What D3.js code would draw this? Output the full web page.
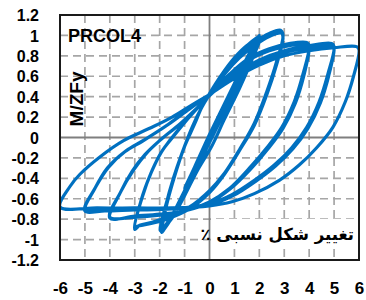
<!DOCTYPE html>
<html><head><meta charset="utf-8">
<script src="https://cdn.jsdelivr.net/npm/d3@7"></script>
<style>body{margin:0;background:#fff}svg{display:block}</style>
</head><body>
<svg id="c" width="366" height="300"></svg>
<script>
// ---- data ----
const xTicks = [-6,-5,-4,-3,-2,-1,0,1,2,3,4,5,6];
const yTicks = [-1.2,-1,-0.8,-0.6,-0.4,-0.2,0,0.2,0.4,0.6,0.8,1,1.2];
const yTickLabels = ["-1.2","-1","-0.8","-0.6","-0.4","-0.2","0","0.2","0.4","0.6","0.8","1","1.2"];
const titleText = "PRCOL4";
const yTitle = "M/ZFy";
const xTitle = "تغییر شکل نسبی ٪";

// drift (%) , M/ZFy, in loading order
const cycleA05 = [[0,0],[0.25,0.13],[0.5,0.26],[0.25,0.12],[0,-0.01],[-0.25,-0.13],[-0.5,-0.26],[-0.25,-0.12],[0,0.01]];
const cycleA1 = [[0.5,0.26],[1,0.52],[0.6,0.31],[0,0],[-0.5,-0.26],[-1,-0.51],[-0.6,-0.3],[0,0.02],
  [0.5,0.27],[1,0.5],[0.6,0.29],[0,-0.02],[-0.5,-0.27],[-1,-0.5],[-0.6,-0.29],[0,0.03]];
const cycleA2 = [[0.5,0.28],[1,0.53],[1.5,0.78],[2,1.0],[1.6,0.8],[1,0.5],[0.4,0.18],[0,-0.02],[-0.5,-0.27],[-1,-0.52],[-1.5,-0.76],[-1.85,-0.89],[-1.95,-0.92],[-1.9,-0.82],
  [-1.75,-0.66],[-1.45,-0.4],[-1.1,-0.15],[-0.7,0.1],[-0.3,0.3],[0,0.42],
  [0.5,0.6],[1,0.76],[1.5,0.9],[2,0.99],[1.65,0.78],[1.1,0.5],[0.5,0.2],[0,-0.05],[-0.5,-0.3],[-1,-0.55],[-1.5,-0.78],[-1.82,-0.9],[-1.92,-0.93],[-1.86,-0.82],
  [-1.7,-0.64],[-1.4,-0.38],[-1.05,-0.12],[-0.65,0.12],[-0.3,0.3],[0,0.43],
  [0.5,0.62],[1,0.78],[1.5,0.9],[2,0.97],[1.7,0.76],[1.2,0.48],[0.6,0.18],[0.1,-0.08],[-0.5,-0.33],[-1,-0.57],[-1.5,-0.79],[-1.85,-0.89],[-1.98,-0.91],[-1.9,-0.8],
  [-1.72,-0.63],[-1.38,-0.36],[-1.02,-0.1],[-0.6,0.13],[-0.28,0.31],[0,0.42]];
const cycleA3 = [[0.6,0.63],[1.2,0.8],[1.8,0.93],[2.4,1.02],[2.85,1.05],[2.95,1.0],[2.7,0.75],[2.3,0.45],[1.8,0.14],[1.2,-0.12],[0.6,-0.35],[0,-0.52],
  [-0.8,-0.68],[-1.6,-0.77],[-2.3,-0.83],[-2.8,-0.86],[-3,-0.9],
  [-2.75,-0.62],[-2.35,-0.35],[-1.95,-0.15],[-1.6,-0.03],[-1,0.15],[-0.45,0.3],[0,0.42],
  [0.6,0.62],[1.2,0.78],[1.8,0.9],[2.4,0.99],[2.9,1.02],[2.95,0.97],[2.7,0.72],[2.3,0.42],[1.8,0.12],[1.2,-0.13],[0.6,-0.36],[0,-0.54],
  [-0.8,-0.7],[-1.6,-0.79],[-2.3,-0.84],[-2.9,-0.87],[-3,-0.88],
  [-2.72,-0.6],[-2.3,-0.32],[-1.9,-0.13],[-1.55,-0.02],[-0.95,0.16],[-0.4,0.31],[0,0.42]];
const cycleA4 = [[0.8,0.62],[1.6,0.78],[2.4,0.87],[3.2,0.92],[3.9,0.93],[4,0.9],[3.75,0.62],[3.4,0.35],[2.9,0.1],[2.3,-0.1],[1.6,-0.3],[0.8,-0.5],[0,-0.63],
  [-1,-0.72],[-2,-0.75],[-3,-0.77],[-4,-0.79],
  [-3.6,-0.55],[-3.1,-0.33],[-2.6,-0.17],[-2,-0.03],[-1.2,0.13],[-0.5,0.29],[0,0.41],
  [0.8,0.6],[1.6,0.76],[2.4,0.85],[3.2,0.9],[3.95,0.91],[4,0.88],[3.78,0.6],[3.45,0.34],[2.95,0.09],[2.35,-0.11],[1.65,-0.31],[0.85,-0.5],[0,-0.64],
  [-1,-0.72],[-2,-0.76],[-3,-0.78],[-4,-0.78],
  [-3.58,-0.54],[-3.05,-0.32],[-2.55,-0.16],[-1.95,-0.02],[-1.15,0.14],[-0.45,0.3],[0,0.41]];
const cycleA5 = [[1,0.62],[2,0.76],[3,0.85],[4,0.9],[4.9,0.92],[5,0.89],[4.75,0.62],[4.4,0.35],[3.9,0.1],[3.3,-0.1],[2.6,-0.27],[1.8,-0.42],[0.9,-0.56],[0,-0.65],
  [-1.5,-0.7],[-3,-0.71],[-4.2,-0.72],[-5,-0.72],
  [-4.6,-0.5],[-4.1,-0.3],[-3.4,-0.14],[-2.65,-0.03],[-1.7,0.12],[-0.8,0.28],[0,0.42],
  [1,0.6],[2,0.74],[3,0.83],[4,0.88],[4.95,0.9],[5,0.87],[4.78,0.6],[4.45,0.34],[3.95,0.09],[3.35,-0.11],[2.65,-0.28],[1.85,-0.43],[0.95,-0.57],[0,-0.66],
  [-1.5,-0.7],[-3,-0.7],[-4.2,-0.71],[-5,-0.71],
  [-4.58,-0.49],[-4.05,-0.29],[-3.35,-0.13],[-2.6,-0.02],[-1.65,0.13],[-0.75,0.29],[0,0.42]];
const cycleA6 = [[1,0.58],[2,0.71],[3,0.8],[4,0.85],[5,0.88],[5.9,0.89],[6,0.86],[5.78,0.6],[5.45,0.35],[4.95,0.1],[4.3,-0.1],[3.6,-0.27],[2.8,-0.42],[1.8,-0.55],[0.9,-0.63],[0,-0.67],
  [-1.5,-0.69],[-3,-0.69],[-4.5,-0.69],[-6,-0.68],
  [-5.6,-0.48],[-5.2,-0.36],[-4.4,-0.19],[-3.45,-0.03],[-2.4,0.09],[-1.5,0.2],[-0.7,0.32],[0,0.42]];

// ---- layout ----
const L = 60, R = 359, T = 15, B = 260;
const svg = d3.select("#c");
const x = d3.scaleLinear().domain([-6,6]).range([L,R]);
const y = d3.scaleLinear().domain([-1.2,1.2]).range([B,T]);

// grid
const g = svg.append("g");
g.selectAll("line.vg").data(xTicks.filter(d=>d!==0 && Math.abs(d)<6)).enter().append("line")
  .attr("x1",d=>x(d)).attr("x2",d=>x(d)).attr("y1",T).attr("y2",B)
  .attr("stroke","#a6a6a6").attr("stroke-width",1.7).attr("stroke-dasharray","8,5");
g.selectAll("line.hg").data(yTicks.filter(d=>d!==0 && Math.abs(d)<1.2)).enter().append("line")
  .attr("y1",d=>y(d)).attr("y2",d=>y(d)).attr("x1",L).attr("x2",R)
  .attr("stroke","#a6a6a6").attr("stroke-width",1.7).attr("stroke-dasharray","8,5");
// zero lines
g.append("line").attr("x1",x(0)).attr("x2",x(0)).attr("y1",T).attr("y2",B).attr("stroke","#7f7f7f").attr("stroke-width",1.8);
g.append("line").attr("x1",L).attr("x2",R).attr("y1",y(0)).attr("y2",y(0)).attr("stroke","#7f7f7f").attr("stroke-width",1.8);

// tick labels via d3 axes
const yAxis = d3.axisLeft(y).tickValues(yTicks).tickSize(0).tickPadding(0)
  .tickFormat((d,i)=>yTickLabels[i]);
svg.append("g").attr("transform",`translate(39,0)`).call(yAxis)
  .call(a=>a.select(".domain").remove())
  .selectAll("text").attr("font-family","Liberation Sans, Arial, sans-serif").attr("font-weight","bold").attr("font-size",16).attr("fill","#000").attr("dy","0.35em");
const xAxis = d3.axisBottom(x).tickValues(xTicks).tickSize(0).tickPadding(0).tickFormat(d3.format("d"));
svg.append("g").attr("transform",`translate(0,282)`).call(xAxis)
  .call(a=>a.select(".domain").remove())
  .selectAll("text").attr("font-family","Liberation Sans, Arial, sans-serif").attr("font-weight","bold").attr("font-size",17).attr("fill","#000").attr("dy","0.72em")
  .text(d=>d<0?"-"+Math.abs(d):d);

// data curve
const all = [].concat(cycleA05,cycleA1,cycleA2,cycleA3,cycleA4,cycleA5,cycleA6);
const line = d3.line().x(d=>x(d[0])).y(d=>y(d[1])).curve(d3.curveCatmullRom.alpha(0.5));
svg.append("clipPath").attr("id","cp").append("rect").attr("x",L).attr("y",T).attr("width",R-L).attr("height",B-T);
svg.append("path").attr("d",line(all)).attr("fill","none").attr("stroke","#0070c0").attr("stroke-width",3.2)
  .attr("stroke-linejoin","round").attr("clip-path","url(#cp)");

// x title with white box
svg.append("rect").attr("x",211).attr("y",219).attr("width",145).attr("height",29).attr("fill","#fff");
svg.append("text").attr("x",354).attr("y",240).attr("direction","rtl").attr("text-anchor","start")
  .attr("font-family","DejaVu Sans, sans-serif").attr("font-weight","bold").attr("font-size",16.5).attr("fill","#000").text(xTitle);

// border
svg.append("rect").attr("x",L).attr("y",T).attr("width",R-L).attr("height",B-T).attr("fill","none").attr("stroke","#1a1a1a").attr("stroke-width",2);

// title & y title
svg.append("text").attr("x",68).attr("y",42).attr("font-family","Liberation Sans, Arial, sans-serif").attr("font-weight","bold").attr("font-size",18).text(titleText);
svg.append("text").attr("transform","translate(83,99) rotate(-90)").attr("text-anchor","middle")
  .attr("font-family","Liberation Sans, Arial, sans-serif").attr("font-weight","bold").attr("font-size",19).text(yTitle);
</script>
</body></html>
